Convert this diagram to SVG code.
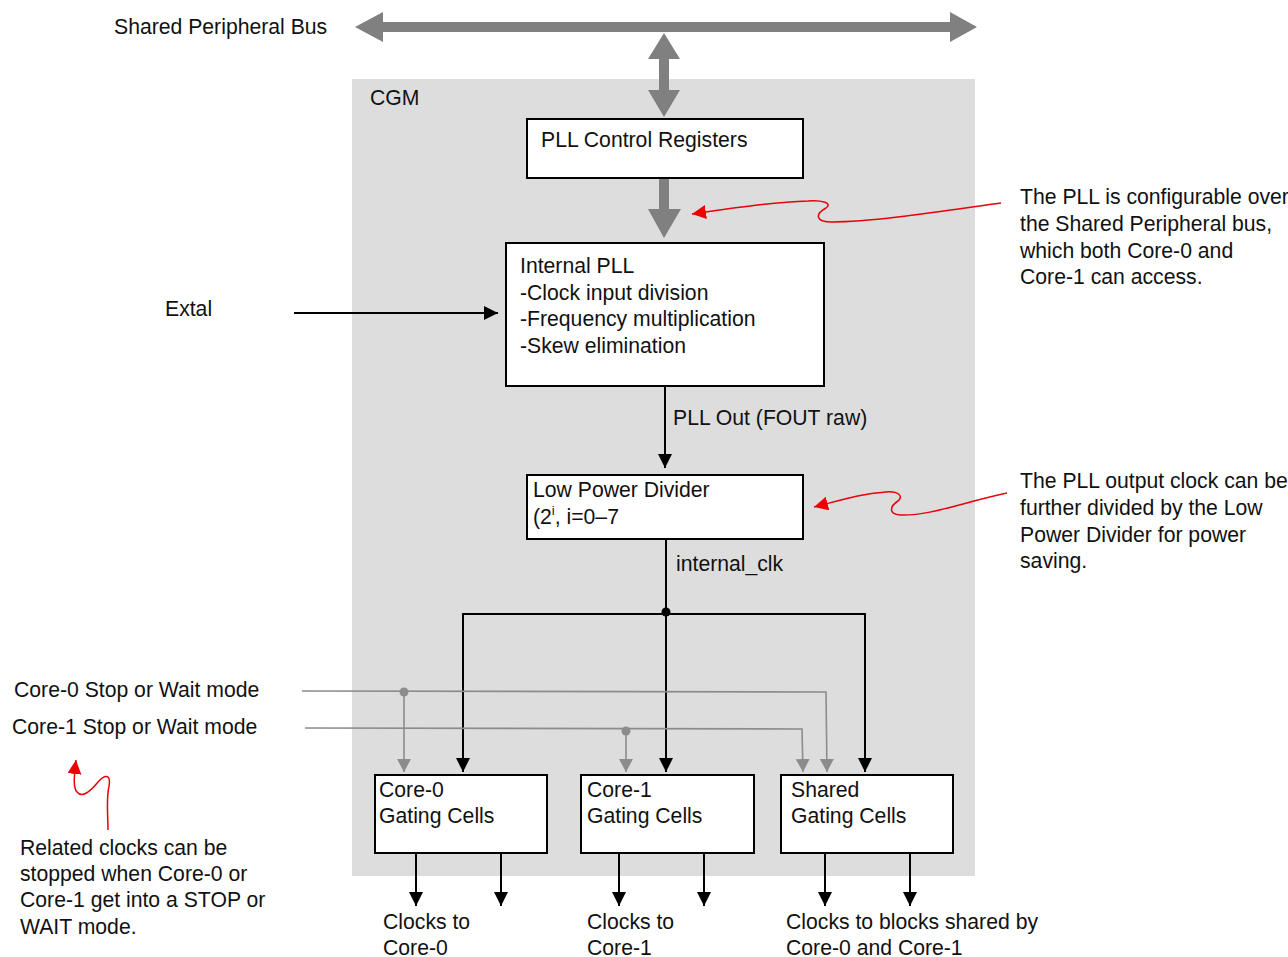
<svg xmlns="http://www.w3.org/2000/svg" width="1288" height="957" viewBox="0 0 1288 957">
  <style>
    text { font-family: "Liberation Sans", Arial, Helvetica, sans-serif; font-size: 21.2px; fill: #111; }
    .box { fill: #ffffff; stroke: #000; stroke-width: 2; }
    .wire { fill: none; stroke: #000; stroke-width: 2; }
    .gwire { fill: none; stroke: #8c8c8c; stroke-width: 1.6; }
    .bus { fill: #808080; }
    .note { fill: none; stroke: #e8000b; stroke-width: 1.5; }
  </style>
  <defs>
    <marker id="ah" markerUnits="userSpaceOnUse" markerWidth="15" markerHeight="15" refX="14" refY="7" orient="auto">
      <path d="M0,0 L14,7 L0,14 z" fill="#000"/>
    </marker>
    <marker id="ahg" markerUnits="userSpaceOnUse" markerWidth="15" markerHeight="15" refX="13" refY="7" orient="auto">
      <path d="M0,0 L13,7 L0,14 z" fill="#8c8c8c"/>
    </marker>
    <marker id="ahr" markerUnits="userSpaceOnUse" markerWidth="16" markerHeight="16" refX="14" refY="7" orient="auto">
      <path d="M0,0 L14,7 L0,14 z" fill="#ee0000"/>
    </marker>
  </defs>

  <!-- CGM block background -->
  <g id="cgm">
    <rect x="352" y="79" width="623" height="797" fill="#dddddd"/>
    <text x="370" y="105">CGM</text>
  </g>

  <!-- Shared peripheral bus -->
  <g id="bus">
    <polygon class="bus" points="355,27 383,12 383,22 950,22 950,12 977,27 950,42 950,32 383,32 383,42"/>
    <text x="114" y="34">Shared Peripheral Bus</text>
  </g>

  <!-- Connectors -->
  <g id="connectors">
    <!-- bus <-> registers -->
    <polygon class="bus" points="664,33 680,59 669,59 669,90 680,90 664,117 648,90 659,90 659,59 648,59"/>
    <!-- registers -> PLL -->
    <polygon class="bus" points="659,178 669,178 669,209 681,209 664,238 648,209 659,209"/>
    <!-- Extal -->
    <line class="wire" x1="294" y1="313" x2="498" y2="313" marker-end="url(#ah)"/>
    <!-- PLL out -->
    <line class="wire" x1="665" y1="386" x2="665" y2="468" marker-end="url(#ah)"/>
    <!-- internal_clk distribution -->
    <line class="wire" x1="666" y1="539" x2="666" y2="772" marker-end="url(#ah)"/>
    <polyline class="wire" points="463,772 463,614 865,614 865,772" marker-end="url(#ah)"/>
    <line class="wire" x1="463" y1="614" x2="463" y2="772" marker-end="url(#ah)"/>
    <circle cx="666" cy="612" r="4.5" fill="#000"/>
    <!-- stop / wait mode signals -->
    <polyline class="gwire" points="302,691 826,692 827,772" marker-end="url(#ahg)"/>
    <line class="gwire" x1="404" y1="692" x2="404" y2="772" marker-end="url(#ahg)"/>
    <circle cx="404" cy="692" r="4.5" fill="#8c8c8c"/>
    <polyline class="gwire" points="305,728 802,729 803,772" marker-end="url(#ahg)"/>
    <line class="gwire" x1="626" y1="731" x2="626" y2="772" marker-end="url(#ahg)"/>
    <circle cx="626" cy="731" r="4.5" fill="#8c8c8c"/>
    <!-- gated clock outputs -->
    <line class="wire" x1="416" y1="853" x2="416" y2="906" marker-end="url(#ah)"/>
    <line class="wire" x1="501" y1="853" x2="501" y2="906" marker-end="url(#ah)"/>
    <line class="wire" x1="619" y1="853" x2="619" y2="906" marker-end="url(#ah)"/>
    <line class="wire" x1="704" y1="853" x2="704" y2="906" marker-end="url(#ah)"/>
    <line class="wire" x1="825" y1="853" x2="825" y2="906" marker-end="url(#ah)"/>
    <line class="wire" x1="910" y1="853" x2="910" y2="906" marker-end="url(#ah)"/>
  </g>

  <g id="pll-ctrl">
    <rect class="box" x="527" y="119" width="276" height="59"/>
    <text x="541" y="147">PLL Control Registers</text>
  </g>

  <g id="internal-pll">
    <rect class="box" x="506" y="243" width="318" height="143"/>
    <text x="520" y="273">Internal PLL</text>
    <text x="520" y="300">-Clock input division</text>
    <text x="520" y="326">-Frequency multiplication</text>
    <text x="520" y="353">-Skew elimination</text>
  </g>

  <g id="lpd">
    <rect class="box" x="527" y="475" width="276" height="64"/>
    <text x="533" y="497">Low Power Divider</text>
    <text x="533" y="524">(2<tspan dy="-9" font-size="13">i</tspan><tspan dy="9">, i=0–7</tspan></text>
  </g>

  <g id="core0-gating">
    <rect class="box" x="375" y="775" width="172" height="78"/>
    <text x="379" y="797">Core-0</text>
    <text x="379" y="823">Gating Cells</text>
  </g>
  <g id="core1-gating">
    <rect class="box" x="581" y="775" width="173" height="78"/>
    <text x="587" y="797">Core-1</text>
    <text x="587" y="823">Gating Cells</text>
  </g>
  <g id="shared-gating">
    <rect class="box" x="781" y="775" width="172" height="78"/>
    <text x="791" y="797">Shared</text>
    <text x="791" y="823">Gating Cells</text>
  </g>

  <!-- signal labels -->
  <g id="labels">
    <text x="165" y="316">Extal</text>
    <text x="673" y="425">PLL Out (FOUT raw)</text>
    <text x="676" y="571">internal_clk</text>
    <text x="14" y="697">Core-0 Stop or Wait mode</text>
    <text x="12" y="734">Core-1 Stop or Wait mode</text>
    <text x="383" y="929">Clocks to</text>
    <text x="383" y="955">Core-0</text>
    <text x="587" y="929">Clocks to</text>
    <text x="587" y="955">Core-1</text>
    <text x="786" y="929">Clocks to blocks shared by</text>
    <text x="786" y="955">Core-0 and Core-1</text>
  </g>

  <!-- annotations -->
  <g id="note-config">
    <path class="note" d="M1001,203 C950,210 875,222 832,222 C815,222 815,214 826,208 C833,203 822,200 808,201 C775,202 740,207 692,214" marker-end="url(#ahr)"/>
    <text x="1020" y="204">The PLL is configurable over</text>
    <text x="1020" y="231">the Shared Peripheral bus,</text>
    <text x="1020" y="258">which both Core-0 and</text>
    <text x="1020" y="284">Core-1 can access.</text>
  </g>
  <g id="note-divider">
    <path class="note" d="M1007,493 C960,503 930,516 900,515 C888,514 890,506 898,501 C904,496 898,491 886,492 C860,494 845,499 814,507" marker-end="url(#ahr)"/>
    <text x="1020" y="488">The PLL output clock can be</text>
    <text x="1020" y="515">further divided by the Low</text>
    <text x="1020" y="542">Power Divider for power</text>
    <text x="1020" y="568">saving.</text>
  </g>
  <g id="note-stop">
    <path class="note" d="M108,830 C108,815 106,800 109,786 C111,774 105,774 98,782 C90,792 82,798 77,792 C73,787 74,778 76,760" marker-end="url(#ahr)"/>
    <text x="20" y="855">Related clocks can be</text>
    <text x="20" y="881">stopped when Core-0 or</text>
    <text x="20" y="907">Core-1 get into a STOP or</text>
    <text x="20" y="934">WAIT mode.</text>
  </g>
</svg>
